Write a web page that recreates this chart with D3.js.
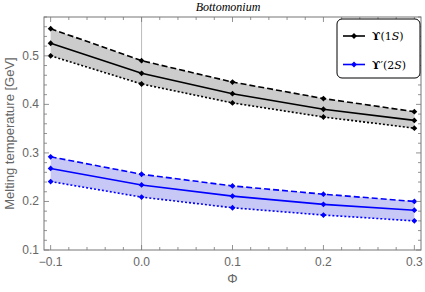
<!DOCTYPE html>
<html lang="en">
<head>
<meta charset="UTF-8">
<title>bottomonium</title>
<script src="https://cdn.jsdelivr.net/npm/d3@7"></script>
<style>
  body { margin: 0; background: #fff; }
  svg { display: block; }
  .tick-label { font-family: "Liberation Sans", Arial, sans-serif; font-size: 12px; fill: #666; }
</style>
</head>
<body>
<svg id="chart"></svg>
<script>
// data
var phi = [-0.1, 0.0, 0.1, 0.2, 0.3];

var ups1S_mid   = [0.526, 0.464, 0.422, 0.390, 0.367];
var ups1S_upper = [0.556, 0.490, 0.446, 0.412, 0.385];
var ups1S_lower = [0.500, 0.442, 0.403, 0.374, 0.351];

var ups2S_mid   = [0.268, 0.234, 0.211, 0.194, 0.182];
var ups2S_upper = [0.292, 0.256, 0.232, 0.215, 0.200];
var ups2S_lower = [0.241, 0.209, 0.187, 0.172, 0.160];

var xTicks = [-0.1, 0.0, 0.1, 0.2, 0.3];
var yTicks = [0.1, 0.2, 0.3, 0.4, 0.5];

var width = 425, height = 292;
var margin = {left: 44, right: 4, top: 17, bottom: 42};

var svg = d3.select('#chart').attr('width', width).attr('height', height);

var x = d3.scaleLinear().domain([-0.1073, 0.3073]).range([margin.left, width - margin.right]);
var y = d3.scaleLinear().domain([0.1, 0.58]).range([height - margin.bottom, margin.top]);

var series = [
  {color: '#000', fill: '#cccccc', mid: ups1S_mid, upper: ups1S_upper, lower: ups1S_lower},
  {color: '#0000ff', fill: '#c8c8f6', mid: ups2S_mid, upper: ups2S_upper, lower: ups2S_lower}
];

var plot = svg.append('g');

// vertical line at phi = 0
plot.append('line')
  .attr('x1', x(0)).attr('x2', x(0))
  .attr('y1', y.range()[1]).attr('y2', y.range()[0])
  .attr('stroke', '#bbb').attr('stroke-width', 1);

var area = d3.area()
  .x(function (d) { return x(d.x); })
  .y0(function (d) { return y(d.lo); })
  .y1(function (d) { return y(d.hi); });

var line = d3.line()
  .x(function (d) { return x(d.x); })
  .y(function (d) { return y(d.v); });

// small diamond markers (square rotated 45deg)
var marker = d3.symbol().type(d3.symbolSquare).size(17);

series.forEach(function (s) {
  var bandData = phi.map(function (p, i) { return {x: p, lo: s.lower[i], hi: s.upper[i]}; });
  plot.append('path').datum(bandData).attr('d', area).attr('fill', s.fill);

  [[s.upper, '6,3'], [s.lower, '2,2'], [s.mid, null]].forEach(function (pair) {
    var pts = phi.map(function (p, i) { return {x: p, v: pair[0][i]}; });
    plot.append('path').datum(pts)
      .attr('d', line)
      .attr('fill', 'none')
      .attr('stroke', s.color)
      .attr('stroke-width', 1.6)
      .attr('stroke-dasharray', pair[1]);
    plot.selectAll(null).data(pts).enter().append('path')
      .attr('d', marker)
      .attr('transform', function (d) { return 'translate(' + x(d.x) + ',' + y(d.v) + ') rotate(45)'; })
      .attr('fill', s.color);
  });
});

// frame
var frameColor = '#777';
var x0 = x.range()[0], x1 = x.range()[1], y0 = y.range()[0], y1 = y.range()[1];
svg.append('rect')
  .attr('x', x0).attr('y', y1).attr('width', x1 - x0).attr('height', y0 - y1)
  .attr('fill', 'none').attr('stroke', frameColor).attr('stroke-width', 1);

// ticks on all four sides (major + minor)
var xMinor = d3.range(-0.1, 0.3001, 0.02);
var yMinor = d3.range(0.1, 0.5801, 0.02);
var tg = svg.append('g').attr('stroke', frameColor).attr('stroke-width', 0.8);
function isMajor(v, list) { return list.some(function (t) { return Math.abs(t - v) < 1e-6; }); }

xMinor.forEach(function (v) {
  var len = isMajor(v, xTicks) ? 5 : 3;
  tg.append('line').attr('x1', x(v)).attr('x2', x(v)).attr('y1', y0).attr('y2', y0 - len);
  tg.append('line').attr('x1', x(v)).attr('x2', x(v)).attr('y1', y1).attr('y2', y1 + len);
});
yMinor.forEach(function (v) {
  var len = isMajor(v, yTicks) ? 5 : 3;
  tg.append('line').attr('y1', y(v)).attr('y2', y(v)).attr('x1', x0).attr('x2', x0 + len);
  tg.append('line').attr('y1', y(v)).attr('y2', y(v)).attr('x1', x1).attr('x2', x1 - len);
});

// tick labels
svg.selectAll('.xl').data(xTicks).enter().append('text')
  .attr('class', 'tick-label')
  .attr('x', function (d) { return x(d); })
  .attr('y', y0 + 16)
  .attr('text-anchor', 'middle')
  .text(function (d) { return d < 0 ? '\u2212' + Math.abs(d).toFixed(1) : d.toFixed(1); });

svg.selectAll('.yl').data(yTicks).enter().append('text')
  .attr('class', 'tick-label')
  .attr('x', x0 - 5)
  .attr('y', function (d) { return y(d) + 4; })
  .attr('text-anchor', 'end')
  .text(function (d) { return d.toFixed(1); });

// axis titles
svg.append('text')
  .attr('class', 'tick-label')
  .attr('transform', 'translate(14,' + ((y0 + y1) / 2) + ') rotate(-90)')
  .attr('text-anchor', 'middle')
  .style('font-size', '13px')
  .text('Melting temperature [GeV]');

svg.append('text')
  .attr('class', 'tick-label')
  .attr('x', x(0.1)).attr('y', 283)
  .attr('text-anchor', 'middle')
  .style('font-size', '13px')
  .text('\u03A6');

svg.append('text')
  .attr('x', 228).attr('y', 11)
  .attr('text-anchor', 'middle')
  .style('font-family', '"Liberation Serif", serif')
  .style('font-style', 'italic')
  .style('font-size', '12px')
  .attr('fill', '#000')
  .text('Bottomonium');

// legend
var legend = svg.append('g').attr('transform', 'translate(337,19)');
legend.append('rect')
  .attr('width', 83).attr('height', 59).attr('rx', 5)
  .attr('fill', '#fff').attr('stroke', '#000').attr('stroke-width', 1);

var legendItems = [
  {color: '#000', state: '1', prime: ''},
  {color: '#0000ff', state: '2', prime: '\u2032'}
];
legendItems.forEach(function (it, i) {
  var ly = 17 + i * 28.5;
  legend.append('line').attr('x1', 6).attr('x2', 28).attr('y1', ly).attr('y2', ly)
    .attr('stroke', it.color).attr('stroke-width', 1.6);
  legend.append('path').attr('d', marker)
    .attr('transform', 'translate(17,' + ly + ') rotate(45)').attr('fill', it.color);
  var t = legend.append('text').attr('x', 35).attr('y', ly + 4)
    .style('font-family', '"DejaVu Serif", serif').style('font-size', '11px').attr('fill', '#000');
  t.append('tspan').style('font-weight', 'bold').text('\u03D2');
  if (it.prime) t.append('tspan').text(it.prime);
  t.append('tspan').text('(' + it.state);
  t.append('tspan').style('font-style', 'italic').text('S');
  t.append('tspan').text(')');
});
</script>
</body>
</html>
